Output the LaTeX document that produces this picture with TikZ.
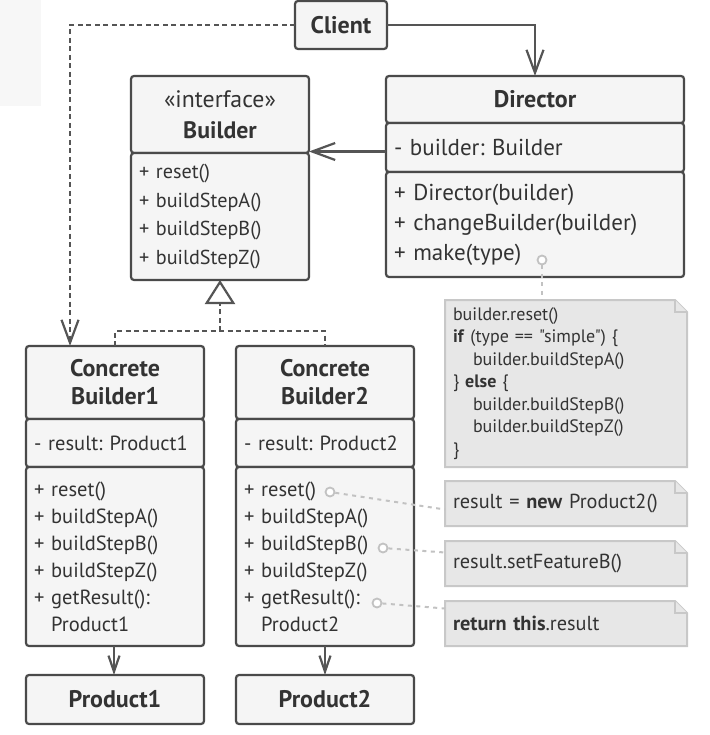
\documentclass[tikz,border=0pt]{standalone}
\usepackage{fontspec}
\setmainfont{PT Sans}
\newfontfamily\nolig{PT Sans}
\usetikzlibrary{arrows.meta,backgrounds}
\frenchspacing
\definecolor{linec}{HTML}{555555}
\definecolor{boxc}{HTML}{4A4A4A}
\definecolor{txtc}{HTML}{333333}
\definecolor{fillc}{HTML}{F5F5F5}
\definecolor{notefill}{HTML}{E7E7E7}
\definecolor{notedraw}{HTML}{C8C8C8}
\definecolor{dotc}{HTML}{C2C2C2}
\definecolor{ghost}{HTML}{F7F7F7}
\newcommand\notefold[1]{%
  \draw[notepath] (#1.north west) -- ([xshift=-12pt]#1.north east) -- ([yshift=-12pt]#1.north east) -- (#1.south east) -- (#1.south west) -- cycle;
  \draw[notepath] ([xshift=-12pt]#1.north east) |- ([yshift=-12pt]#1.north east);}
\begin{document}
\begin{tikzpicture}[x=1pt,y=-1pt,
  comp/.style={draw=boxc, fill=fillc, line width=2.2pt, rounded corners=3pt, inner sep=0pt, outer sep=0pt, anchor=north west, text=txtc},
  hdr/.style={comp, align=center},
  lst/.style={comp, align=left, inner xsep=8pt},
  fA/.style={font=\fontsize{20.2}{28.5}\selectfont},
  fB/.style={font=\fontsize{20.5}{27}\selectfont},
  fD/.style={font=\fontsize{23}{30}\selectfont},
  fH/.style={font=\fontsize{24}{28}\selectfont},
  fN/.style={font=\fontsize{20.3}{24}\selectfont},
  notebox/.style={inner xsep=8pt, inner ysep=0pt, outer sep=0pt, anchor=north west, align=left, text=txtc, text width=226pt},
  notepath/.style={draw=notedraw, fill=notefill, line width=2pt},
  assoc/.style={draw=linec, line width=2.2pt, -{Straight Barb[length=23pt, width=17pt]}},
  small/.style={draw=linec, line width=2.2pt, -{Straight Barb[length=16pt, width=11pt]}},
  dep/.style={draw=linec, line width=2.2pt, dash pattern=on 5pt off 3.5pt},
  dotline/.style={draw=dotc, line width=2pt, dash pattern=on 4pt off 4.5pt},
  circ/.style={circle, draw=dotc, fill=white, line width=1.8pt, minimum size=9pt, inner sep=0pt},
]
\useasboundingbox (0,0) rectangle (709,735);
\fill[ghost] (0,0) rectangle (41,106);

% Client
\node[hdr, fH, minimum width=92pt, minimum height=48pt] (client) at (295,1) {\textbf{Client}};

% Builder interface
\node[hdr, minimum width=178pt, minimum height=77pt, font=\fontsize{23.8}{31}\selectfont] (bh) at (131,76) {«interface»\\\textbf{Builder}};
\node[lst, fA, text width=162pt, minimum height=127pt] (bm) at (131,153) {+ reset()\\+ buildStepA()\\+ buildStepB()\\+ buildStepZ()};

% Director
\node[hdr, font=\fontsize{24}{30}\selectfont, minimum width=298pt, minimum height=47pt] (dh) at (386,76) {\textbf{Director}};
\node[lst, fD, text width=282pt, minimum height=49pt] (da) at (386,123) {- builder: Builder};
\node[lst, fD, text width=282pt, minimum height=105pt] (dm) at (386,172) {+ Director(builder)\\+ changeBuilder(builder)\\+ make(type)};

% Concrete builder 1
\node[hdr, fH, minimum width=178pt, minimum height=73pt] (c1h) at (26,346) {\textbf{Concrete}\\\textbf{Builder1}};
\node[lst, fB, text width=162pt, minimum height=48pt] (c1a) at (26,419) {- result: Product1};
\node[lst, fB, text width=162pt, minimum height=179pt] (c1m) at (26,467) {+ reset()\\+ buildStepA()\\+ buildStepB()\\+ buildStepZ()\\+ getResult():\\\phantom{+ }Product1};

% Concrete builder 2
\node[hdr, fH, minimum width=178pt, minimum height=73pt] (c2h) at (236,346) {\textbf{Concrete}\\\textbf{Builder2}};
\node[lst, fB, text width=162pt, minimum height=48pt] (c2a) at (236,419) {- result: Product2};
\node[lst, fB, text width=162pt, minimum height=179pt] (c2m) at (236,467) {+ reset()\\+ buildStepA()\\+ buildStepB()\\+ buildStepZ()\\+ getResult():\\\phantom{+ }Product2};

% Products
\node[hdr, fH, minimum width=178pt, minimum height=49pt] (p1) at (26,675) {\textbf{Product1}};
\node[hdr, fH, minimum width=178pt, minimum height=49pt] (p2) at (236,675) {\textbf{Product2}};

% Notes
\node[notebox, minimum height=167pt, font=\fontsize{18}{22.5}\selectfont] (n1) at (445,300) {builder.reset()\\\textbf{if} (type == {\nolig "simple"}) \{\\\hspace*{20pt}builder.buildStepA()\\\} \textbf{else} \{\\\hspace*{20pt}builder.buildStepB()\\\hspace*{20pt}builder.buildStepZ()\\\}};
\node[notebox, fN, minimum height=45pt] (n2) at (445,481) {result = \textbf{new} Product2()};
\node[notebox, fN, minimum height=45pt] (n3) at (445,541) {result.setFeatureB()};
\node[notebox, fN, minimum height=45pt] (n4) at (445,601) {\textbf{return this}.result};
\begin{scope}[on background layer]
\notefold{n1}
\notefold{n2}
\notefold{n3}
\notefold{n4}
\end{scope}

% Connectors
\draw[dep, -{Straight Barb[length=23pt, width=17pt]}] (client.west) -| ([xshift=-45pt]c1h.north);
\draw[assoc] (client.east) -| (dh.north);
\draw[assoc] ([yshift=-4pt]da.west) -- ([yshift=-4pt]da.west -| bm.north east);
\coordinate (joint) at (220,331);
\draw[dep] (c1h.north) |- (joint) -| (c2h.north);
\draw[dep, -{Triangle[open, length=24pt, width=30pt, fill=white]}] (joint) -- (bm.south);
\draw[small] ([xshift=-1pt]c1m.south) -- ([xshift=-1pt]p1.north);
\draw[small] (c2m.south) -- (p2.north);

% Note links
\node[circ] (k0) at (542,260) {};
\node[circ] (k1) at (330,492) {};
\node[circ] (k2) at (383,548) {};
\node[circ] (k3) at (377,603) {};
\draw[dotline] (k0) -- (k0 |- n1.north);
\draw[dotline] (k1) -- ([yshift=-6pt]n2.west);
\draw[dotline] (k2) -- ([yshift=11pt]n3.west);
\draw[dotline] (k3) -- ([yshift=15pt]n4.west);
\end{tikzpicture}
\end{document}
